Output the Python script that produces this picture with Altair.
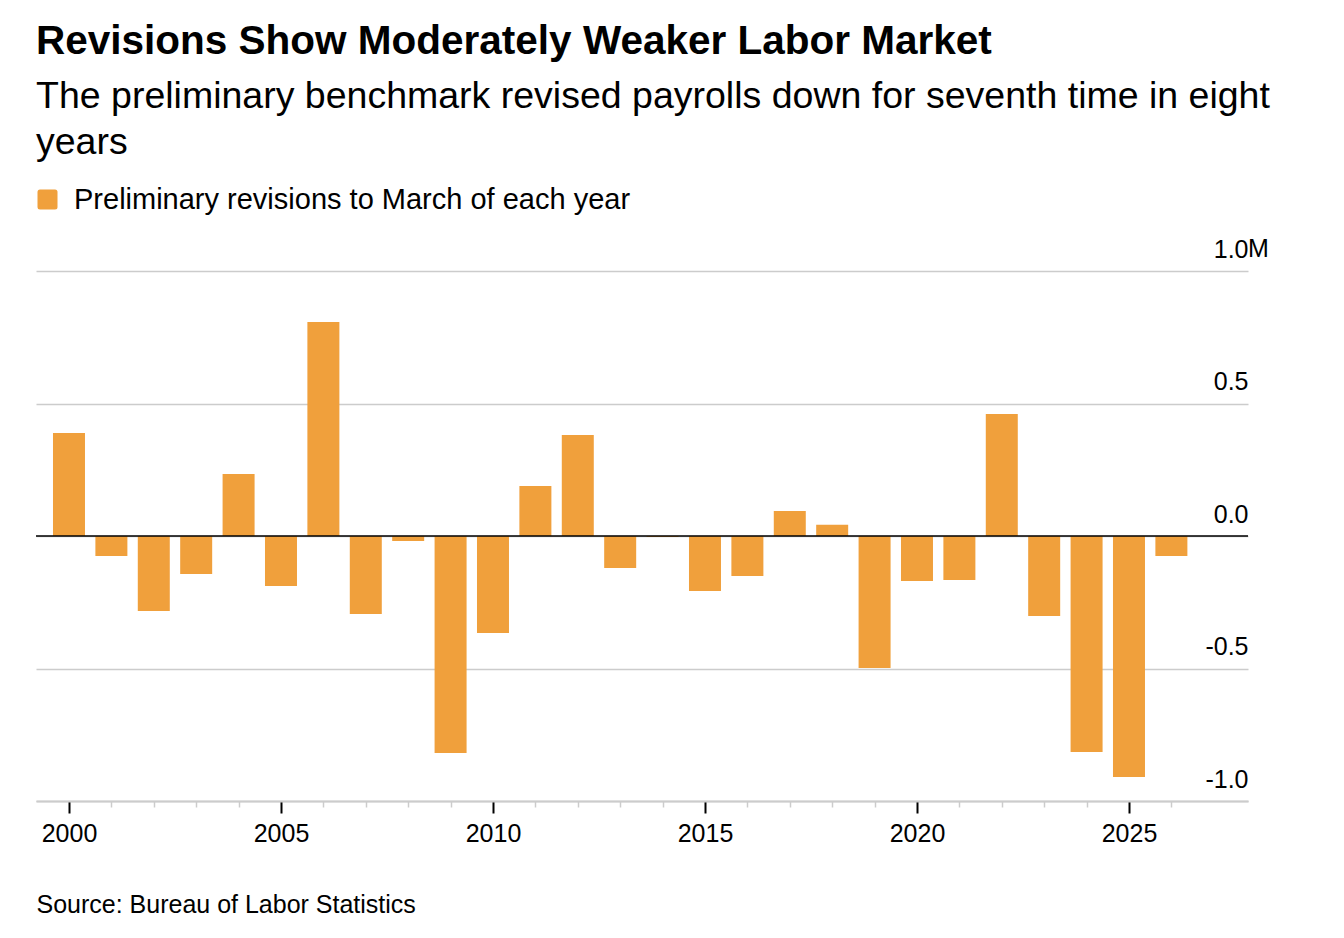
import altair as alt
import pandas as pd

# ---- data (millions of jobs) ----
years = list(range(2000, 2027))
revisions = [0.389, -0.075, -0.283, -0.143, 0.234, -0.189, 0.808, -0.294, -0.019, -0.819,
             -0.366, 0.189, 0.381, -0.121, -0.004, -0.208, -0.151, 0.094, 0.042, -0.498,
             -0.170, -0.166, 0.460, -0.302, -0.815, -0.909, -0.075]
series_label = "Preliminary revisions to March of each year"
y_ticks = [-1.0, -0.5, 0.0, 0.5, 1.0]
zero_line = [0.0]
unit_label = ["M"]
unit_at = [1.0]

title_text = "Revisions Show Moderately Weaker Labor Market"
subtitle_lines = ["The preliminary benchmark revised payrolls down for seventh time in eight", "years"]
source_text = "Source: Bureau of Labor Statistics"

df = pd.DataFrame({"year": years, "revision": revisions, "series": [series_label] * len(years)})
zdf = pd.DataFrame({"v": zero_line})
udf = pd.DataFrame({"v": unit_at, "t": unit_label})

FONT = "Liberation Sans"
ORANGE = "#f0a03c"
GRID = "#cccccc"
W, H = 1212, 530

x_scale = alt.Scale(domain=[1999.222, 2027.807], nice=False, zero=False, padding=0)
y_scale = alt.Scale(domain=[-1, 1], nice=False, zero=False)

major = "datum.value % 5 === 0"
rounded_sq = ("M -0.75,-1 L 0.75,-1 Q 1,-1 1,-0.75 L 1,0.75 Q 1,1 0.75,1 L -0.75,1 "
              "Q -1,1 -1,0.75 L -1,-0.75 Q -1,-1 -0.75,-1 Z")

bars = alt.Chart(df).mark_bar(size=32).encode(
    x=alt.X("year:Q", scale=x_scale, axis=alt.Axis(
        values=years,
        title=source_text, titleX=0, titleY=111, titleAlign="left", titleAnchor="start",
        titleBaseline="alphabetic", titleFontSize=25, titleFontWeight="normal",
        titleColor="black", titleFont=FONT,
        labelExpr=f"{major} ? format(datum.value, 'd') : ''",
        labelOverlap=False, labelFlush=False,
        tickSize={"condition": {"test": major, "value": 12}, "value": 6},
        tickColor={"condition": {"test": major, "value": "black"}, "value": GRID},
        tickWidth={"condition": {"test": major, "value": 2}, "value": 1.5},
        domainColor=GRID, domainWidth=2, grid=False,
        labelFontSize=25, labelFont=FONT, labelColor="black", labelPadding=8,
    )),
    y=alt.Y("revision:Q", scale=y_scale, axis=alt.Axis(
        orient="right", values=y_ticks, title=None, domain=False, ticks=False,
        grid=True, gridColor=GRID, gridWidth=1.5,
        labelAlign="right", labelBaseline="alphabetic", labelOffset=-14, labelPadding=0,
        labelExpr="replace(format(datum.value, '.1f'), '\u2212', '-')",
        labelFontSize=25, labelFont=FONT, labelColor="black",
        labelFlush=False, labelOverlap=False,
    )),
    color=alt.Color("series:N", scale=alt.Scale(range=[ORANGE]), legend=alt.Legend(
        title=None, orient="none", legendX=-3, legendY=-86, padding=0,
        symbolType=rounded_sq, symbolSize=400, symbolStrokeWidth=0, symbolOpacity=1,
        labelFontSize=29, labelFont=FONT, labelColor="black", labelOffset=12, labelLimit=0,
    )),
)

zero = alt.Chart(zdf).mark_rule(color="black", strokeWidth=1.5).encode(
    y=alt.Y("v:Q", scale=y_scale)
)

unit = alt.Chart(udf).mark_text(
    align="left", baseline="alphabetic", dy=-14, fontSize=25, font=FONT, color="black"
).encode(
    y=alt.Y("v:Q", scale=y_scale),
    x=alt.value(W),
    text="t:N",
)

chart = alt.layer(bars, zero, unit).properties(
    width=W, height=H,
    padding={"left": 28, "top": 263, "right": 70, "bottom": 120},
    autosize=alt.AutoSizeParams(type="none"),
    title=alt.TitleParams(
        text=title_text, subtitle=subtitle_lines, anchor="start", frame="group", orient="top",
        fontSize=40.5, fontWeight="bold", font=FONT, color="black",
        subtitleFont=FONT, subtitleFontSize=37.5, subtitleColor="black",
        subtitleLineHeight=46, subtitlePadding=15, offset=24,
    ),
).configure(font=FONT).configure_view(stroke=None)

chart.save("out.html", embed_options={"renderer": "svg", "actions": False})
